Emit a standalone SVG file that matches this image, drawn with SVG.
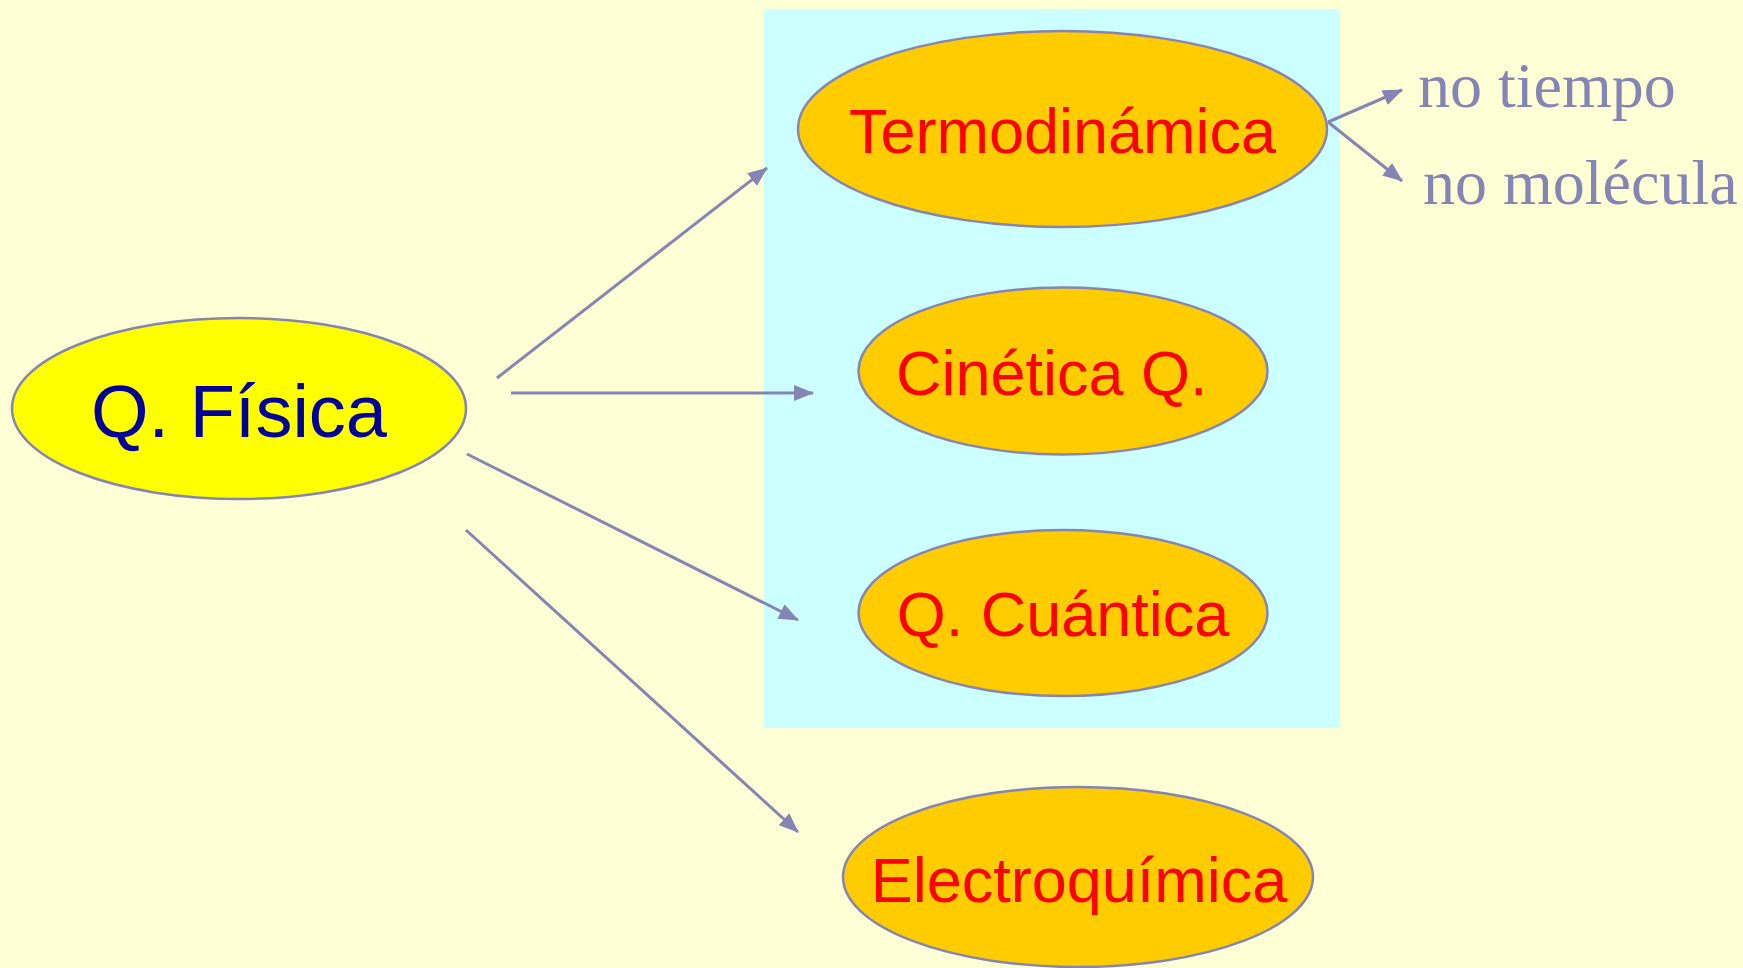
<svg xmlns="http://www.w3.org/2000/svg" width="1743" height="968" viewBox="0 0 1743 968">
<defs>
<style>
.node{fill:#FFCC00;stroke:#8585B5;stroke-width:2.5}
.lbl{font-family:"Liberation Sans",Arial,sans-serif;font-size:63px;fill:#FF0000}
.side{font-family:"Liberation Serif","Times New Roman",serif;font-size:64px;fill:#8585B5}
.conn line{stroke:#8585B5;stroke-width:3;fill:none}
</style>
<marker id="ah" markerUnits="userSpaceOnUse" markerWidth="20" markerHeight="16" refX="19" refY="8" orient="auto">
<path d="M0,0 L20,8 L0,16 z" fill="#8585B5"/>
</marker>
</defs>
<rect width="1743" height="968" fill="#FFFFD5"/>
<rect id="group-box" x="764" y="9" width="576" height="719" fill="#CCFFFF"/>
<g id="fisica">
<ellipse cx="239" cy="408.5" rx="227" ry="90.5" fill="#FFFF00" stroke="#8585B5" stroke-width="2.5"/>
<text x="239" y="437" text-anchor="middle" font-family="Liberation Sans, Arial, sans-serif" font-size="74" fill="#000099">Q. Física</text>
</g>
<g id="termo">
<ellipse class="node" cx="1062.5" cy="129" rx="264.5" ry="98"/>
<text class="lbl" x="1062.5" y="153" text-anchor="middle" font-size="63.5">Termodinámica</text>
</g>
<g id="cinetica">
<ellipse class="node" cx="1063" cy="371" rx="204.5" ry="83.5"/>
<text class="lbl" x="896" y="395">Cinética Q.</text>
</g>
<g id="cuantica">
<ellipse class="node" cx="1063" cy="613" rx="204.5" ry="83"/>
<text class="lbl" x="1063" y="636" text-anchor="middle">Q. Cuántica</text>
</g>
<g id="electro">
<ellipse class="node" cx="1078" cy="877" rx="235" ry="90"/>
<text class="lbl" x="1079" y="902" text-anchor="middle">Electroquímica</text>
</g>
<g id="notiempo"><text class="side" x="1418" y="107">no tiempo</text></g>
<g id="nomolecula"><text class="side" x="1423" y="204">no molécula</text></g>
<g id="connectors" class="conn">
<line x1="497" y1="378" x2="767" y2="168" marker-end="url(#ah)"/>
<line x1="511" y1="393" x2="813" y2="393" marker-end="url(#ah)"/>
<line x1="467" y1="454" x2="798" y2="620" marker-end="url(#ah)"/>
<line x1="466" y1="530" x2="798" y2="832" marker-end="url(#ah)"/>
<line x1="1328" y1="122" x2="1402" y2="90" marker-end="url(#ah)"/>
<line x1="1328" y1="122" x2="1402" y2="181" marker-end="url(#ah)"/>
</g>
</svg>
